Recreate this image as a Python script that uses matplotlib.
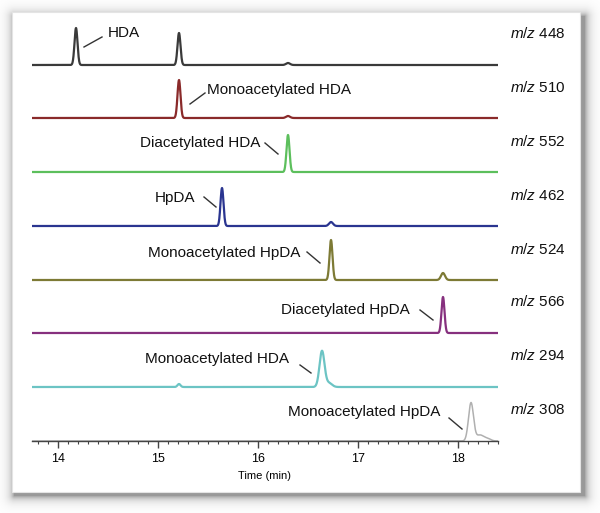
import numpy as np
import matplotlib
matplotlib.use("Agg")
import matplotlib.pyplot as plt
from matplotlib.ticker import MultipleLocator

plt.rcParams['font.family'] = ['Liberation Sans', 'DejaVu Sans']
plt.rcParams['mathtext.fontset'] = 'custom'
plt.rcParams['mathtext.it'] = 'Liberation Sans:italic'
plt.rcParams['mathtext.rm'] = 'Liberation Sans'

# traces, top to bottom
mz_values = [448, 510, 552, 462, 524, 566, 294, 308]
colors = ['#3a3a3a', '#8a2a2a', '#5cbf5c', '#2a3590', '#7d7a35', '#86307e', '#6cc4c4', '#b0b0b0']
# peaks per trace: (retention time, height, width)
peak_times = [[14.18, 15.21, 16.30], [15.21, 16.30], [16.30], [15.64, 16.73],
              [16.73, 17.85], [17.85], [15.21, 16.64, 16.71], [18.13, 18.22, 18.30]]
peak_heights = [[37, 32, 2], [38, 2], [37], [38, 4], [40, 7], [36], [3, 36, 4], [38, 6, 2]]
peak_widths = [[0.015, 0.015, 0.02], [0.015, 0.02], [0.015], [0.015, 0.02],
               [0.015, 0.02], [0.015], [0.015, 0.025, 0.03], [0.025, 0.04, 0.03]]
offsets = [376, 323, 269, 215, 161, 108, 54, 0]

# compound labels: text, x (time), y, leader start, leader end, alignment
labels = ['HDA', 'Monoacetylated HDA', 'Diacetylated HDA', 'HpDA',
          'Monoacetylated HpDA', 'Diacetylated HpDA', 'Monoacetylated HDA', 'Monoacetylated HpDA']
label_x = [14.50, 15.49, 16.02, 15.37, 16.42, 17.52, 16.31, 17.82]
label_y = [408, 351, 298, 243, 188, 131, 82, 29]
label_ha = ['left', 'left', 'right', 'right', 'right', 'right', 'right', 'right']
leader_a = [(14.26, 394), (15.32, 337), (16.07, 298), (15.46, 244), (16.49, 189), (17.62, 131), (16.42, 76), (17.91, 23)]
leader_b = [(14.44, 404), (15.47, 348), (16.20, 287), (15.58, 234), (16.62, 178), (17.75, 121), (16.53, 68), (18.04, 12)]

W, H = 600, 513
fig = plt.figure(figsize=(6, 5.13), dpi=100)
fig.patch.set_facecolor('white')

# soft drop shadow + white panel
bg = fig.add_axes([0, 0, 1, 1])
yy, xx = np.mgrid[0:H, 0:W]
x0, x1, y0, y1 = 14, 584, 16, 495
dx = np.maximum(np.maximum(x0 - xx, xx - x1), 0)
dy = np.maximum(np.maximum(y0 - yy, yy - y1), 0)
d = np.hypot(dx, dy)
shade = 1 - 0.4 * np.exp(-d / 4.5)
img = np.dstack([shade, shade, shade])
bg.imshow(img, extent=[0, W, H, 0], aspect='auto', interpolation='bilinear')
bg.add_patch(plt.Rectangle((12, 12), 568, 480, facecolor='white', edgecolor='#e4e4e4', lw=0.8))
bg.set_xlim(0, W)
bg.set_ylim(H, 0)
bg.axis('off')

ax = fig.add_axes([32 / W, 1 - 441 / H, 466 / W, 423 / H])
ax.patch.set_alpha(0)
t = np.linspace(13.74, 18.40, 4000)
for i in range(len(mz_values)):
    sig = np.zeros_like(t)
    for c, h, w in zip(peak_times[i], peak_heights[i], peak_widths[i]):
        sig += h * np.exp(-0.5 * ((t - c) / w) ** 2)
    ax.plot(t, offsets[i] + sig, color=colors[i], lw=1.6 if i < 7 else 1.1, solid_capstyle='butt')

for i, txt in enumerate(labels):
    ax.text(label_x[i], label_y[i], txt, ha=label_ha[i], va='center', fontsize=11, color='#111111')
    ax.plot([leader_a[i][0], leader_b[i][0]], [leader_a[i][1], leader_b[i][1]], color='#333333', lw=1)

for i, mz in enumerate(mz_values):
    ax.annotate('$\\mathit{m/z}$ ' + str(mz), xy=(510 / W, offsets[i] + 31),
                xycoords=('figure fraction', 'data'), ha='left', va='center',
                fontsize=11, color='#111111', annotation_clip=False)

ax.set_xlim(13.74, 18.40)
ax.set_ylim(0, 423)
for s in ['top', 'right', 'left']:
    ax.spines[s].set_visible(False)
ax.spines['bottom'].set_color('#444444')
ax.spines['bottom'].set_linewidth(1.0)
ax.set_yticks([])
ax.xaxis.set_major_locator(MultipleLocator(1))
ax.xaxis.set_minor_locator(MultipleLocator(0.1))
ax.tick_params(axis='x', which='major', length=5, width=1, color='#444444', labelsize=9, pad=4)
ax.tick_params(axis='x', which='minor', length=2.5, width=0.8, color='#444444')
ax.set_xlabel('Time (min)', fontsize=8, labelpad=4)

fig.savefig('out.png', dpi=100)
